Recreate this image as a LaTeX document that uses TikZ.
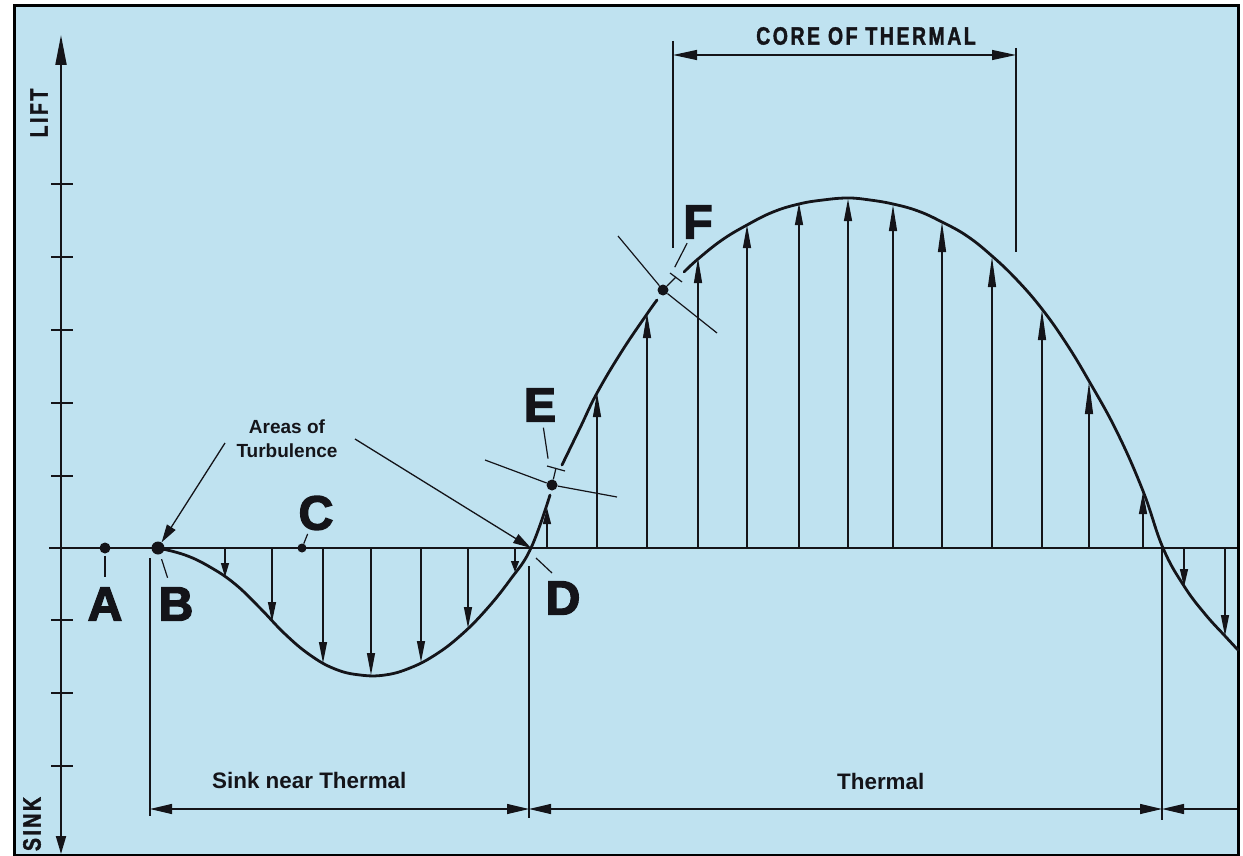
\documentclass[tikz,border=0pt]{standalone}
\usepackage{fontspec}
\setmainfont{Liberation Sans}
\newfontfamily\heavyfont{Liberation Sans}[UprightFont={* Bold}, FakeBold=3]
\newfontfamily\condfont{Liberation Sans}[UprightFont={* Bold}, FakeStretch=0.78, LetterSpace=10, FakeBold=1.5]
\usetikzlibrary{arrows.meta, calc}
\definecolor{PaleSky}{RGB}{191,226,240}
\definecolor{InkBlack}{RGB}{20,20,25}

\tikzset{
  axisline/.style={line width=2pt, draw=InkBlack},
  thinline/.style={line width=1.2pt, draw=InkBlack},
  curveline/.style={line width=2.8pt, draw=InkBlack, line cap=round},
  forcearrow/.style={thinline, -{Triangle[length=#1, width=8pt]}},
  forcearrow/.default=20pt,
  dimline/.style={thinline, {Triangle[length=22pt, width=10pt]}-{Triangle[length=22pt, width=10pt]}},
  leaderarrow/.style={line width=1.3pt, draw=InkBlack, -{Triangle[length=18pt, width=10pt]}},
  dotmark/.style={circle, fill=InkBlack, inner sep=0pt, minimum size=#1},
  dotmark/.default=11pt,
  letterlabel/.style={font=\heavyfont\fontsize{48}{48}\selectfont, inner sep=0pt, text=InkBlack},
  condlabel/.style={font=\condfont\fontsize{25}{25}\selectfont, inner sep=0pt, text=InkBlack},
  notelabel/.style={font=\bfseries\fontsize{22.4}{26}\selectfont, inner sep=0pt, text=InkBlack}
}

\begin{document}
\begin{tikzpicture}[x=1pt, y=-1pt]
  \useasboundingbox (0,0) rectangle (1243,856);
  \fill[white] (0,0) rectangle (1243,856);
  \draw[line width=3pt, fill=PaleSky] (14,6) rectangle (1238,855);

  % axes and scale ticks
  \draw[axisline, {Triangle[length=18pt, width=10pt]}-{Triangle[length=30pt, width=11pt]}] (61,854) -- (61,35);
  \draw[axisline] (49,548) -- (1237,548);
  \foreach \ty in {184,257,330,403,476,620,693,766}
    \draw[axisline] (51,\ty) -- (73,\ty);
  \node[condlabel, rotate=90] (lift) at (39,113) {LIFT};
  \node[condlabel, rotate=90] (sink) at (32,824) {SINK};

  % air movement under the curve
  \foreach \ax/\ay/\hl in {225/577/14pt, 272/622/20pt, 323/663/21pt, 371/675/22pt, 421/662/21pt,
      468/628/21pt, 515/572/11pt, 1184/587/18pt, 1225/636/21pt}
    \draw[forcearrow=\hl] (\ax,548) -- (\ax,\ay);
  \foreach \ax/\ay/\hl in {547/508/16pt, 597/393/24pt, 647/313/25pt, 698/258/25pt, 747/225/23pt,
      799/203/22pt, 848/199/22pt, 893/205/26pt, 942/222/30pt, 992/257/30pt, 1042/310/30pt,
      1089/382/32pt, 1143/492/22pt}
    \draw[forcearrow=\hl] (\ax,548) -- (\ax,\ay);

  % sink and lift curve
  \draw[curveline] plot[smooth, tension=0.7] coordinates {(158,548) (185,555) (210,567) (235,584)
      (260,608) (285,634) (310,655) (335,669) (360,675) (385,675) (410,668) (435,655) (460,636)
      (485,611) (510,580) (531,548) (550,495)};
  \draw[curveline] plot[smooth, tension=0.7] coordinates {(562,465) (580,428) (597,393) (622,351)
      (647,314) (657,300)};
  \draw[curveline] plot[smooth, tension=0.7] coordinates {(684,272) (698,259) (722,240) (747,225)
      (773,212) (799,204) (823,200) (848,198) (870,200) (893,204) (918,211) (942,222) (967,236)
      (992,256) (1017,280) (1042,309) (1066,343) (1089,381) (1117,432) (1143,491) (1163,548)
      (1184,586) (1205,614) (1225,636) (1238,650)};

  % glider positions
  \node[dotmark] (A) at (105,548) {};
  \node[dotmark=13pt] (B) at (158,548) {};
  \node[dotmark=9pt] (C) at (302,548) {};
  \coordinate (D) at (531,548);
  \node[dotmark] (E) at (552,485) {};
  \node[dotmark] (F) at (663,290) {};

  \node[letterlabel] (labA) at (105,604) {A};
  \node[letterlabel] (labB) at (176,604) {B};
  \node[letterlabel] (labC) at (316,513) {C};
  \node[letterlabel] (labD) at (563,598) {D};
  \node[letterlabel] (labE) at (540,405) {E};
  \node[letterlabel] (labF) at (698,222) {F};

  \draw[thinline, shorten <=2pt, shorten >=10pt] (A) -- (labA);
  \draw[thinline, shorten <=5pt, shorten >=10pt] (B) -- (labB);
  \draw[thinline, shorten >=4pt] (C) -- (labC);
  \draw[thinline] ($(D)+(5,10)$) -- ($(D)+(21,25)$);
  \draw[thinline, shorten <=21pt, shorten >=6pt] (E) -- (labE);
  \draw[thinline, shorten <=20pt, shorten >=5pt] (F) -- (labF);

  % glider symbols at E and F
  \draw[thinline] (E) -- ++(-67,-25);
  \draw[thinline] (E) -- ++(65,12);
  \draw[thinline] (E) -- ($(E)+(4,-17)$);
  \draw[thinline] ($(E)+(-5,-19)$) -- ($(E)+(13,-14)$);
  \draw[thinline] (F) -- ++(-45,-54);
  \draw[thinline] (F) -- ++(54,43);
  \draw[thinline] (F) -- ($(F)+(13,-13)$);
  \draw[thinline] ($(F)+(7,-17)$) -- ($(F)+(19,-8)$);

  % areas of turbulence
  \node[font=\bfseries\fontsize{19}{24}\selectfont, align=center, inner sep=0pt, text=InkBlack]
    (turb) at (287,439) {Areas of\\Turbulence};
  \coordinate (turbL) at (225,443);
  \coordinate (turbR) at (355,439);
  \draw[leaderarrow] (turbL) -- (B);
  \draw[leaderarrow] (turbR) -- (D);

  % core of thermal
  \draw[thinline] (673,41) -- (673,248);
  \draw[thinline] (1016,48) -- (1016,252);
  \coordinate (coreL) at (673,55);
  \coordinate (coreR) at (1016,55);
  \draw[thinline, {Triangle[length=24pt, width=10pt]}-{Triangle[length=24pt, width=10pt]}] (coreL) -- (coreR);
  \node[condlabel] (core) at (866,36) {CORE OF THERMAL};

  % extents below the axis
  \draw[thinline] (150,558) -- (150,816);
  \draw[thinline] (529,566) -- (529,818);
  \draw[thinline] (1162,548) -- (1162,820);
  \coordinate (dimA) at (150,809);
  \coordinate (dimB) at (529,809);
  \coordinate (dimC) at (1162,809);
  \coordinate (dimD) at (1237,809);
  \draw[dimline] (dimA) -- (dimB);
  \draw[dimline] (dimB) -- (dimC);
  \draw[thinline, {Triangle[length=22pt, width=10pt]}-] (dimC) -- (dimD);
  \node[notelabel, anchor=west] (sinknear) at (212,780) {Sink near Thermal};
  \node[notelabel, anchor=west] (thermal) at (837,781) {Thermal};
\end{tikzpicture}
\end{document}
